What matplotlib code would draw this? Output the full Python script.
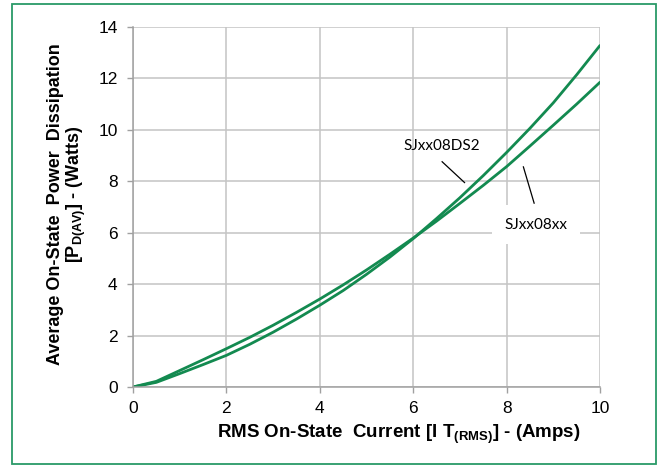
import numpy as np
import matplotlib.pyplot as plt
from matplotlib.patches import Rectangle

plt.rcParams['font.family'] = ['Liberation Sans', 'DejaVu Sans']
plt.rcParams['mathtext.fontset'] = 'custom'
plt.rcParams['mathtext.rm'] = 'Liberation Sans'
plt.rcParams['mathtext.bf'] = 'Liberation Sans:bold'

# RMS on-state current (A)
current = [0, 0.5, 1, 1.5, 2, 2.5, 3, 3.5, 4, 4.5, 5, 5.5,
           6, 6.5, 7, 7.5, 8, 8.5, 9, 9.5, 10]
# average on-state power dissipation (W)
power_ds2 = [0, 0.18, 0.52, 0.87, 1.23, 1.66, 2.13, 2.64, 3.18, 3.75, 4.38, 5.05,
             5.77, 6.55, 7.36, 8.22, 9.12, 10.06, 11.05, 12.14, 13.28]
power_xx = [0, 0.22, 0.64, 1.06, 1.49, 1.93, 2.40, 2.90, 3.42, 3.97, 4.55, 5.16,
            5.79, 6.45, 7.14, 7.84, 8.57, 9.37, 10.18, 11.0, 11.85]

green = '#138a50'

fig = plt.figure(figsize=(6.62, 4.68), dpi=100)
ax = fig.add_axes([0.2009, 0.1731, 0.7054, 0.7692])

ax.plot(current, power_ds2, color=green, lw=2.0, solid_capstyle='round')
ax.plot(current, power_xx, color=green, lw=2.0, solid_capstyle='round')

ax.set_xlim(0, 10)
ax.set_ylim(0, 14)
ax.set_xticks(range(0, 11, 2))
ax.set_yticks(range(0, 15, 2))
ax.grid(True, color='#c4c4c4', lw=1.1)
ax.set_axisbelow(True)
for side in ['top', 'right']:
    ax.spines[side].set_visible(False)
for side in ['left', 'bottom']:
    ax.spines[side].set_color('#a0a0a0')
    ax.spines[side].set_linewidth(1.1)
ax.tick_params(length=4, width=1, color='#a0a0a0', labelsize=12.5)
ax.tick_params(axis='y', pad=7)
ax.tick_params(axis='x', pad=6)

ax.set_xlabel(r'RMS On-State  Current [I T$_{\mathbf{(RMS)}}$] - (Amps)',
              fontsize=13.5, fontweight='bold')
ax.xaxis.set_label_coords(0.57, -0.10)
ax.set_ylabel('Average On-State  Power  Dissipation    \n'
              r'[P$_{\mathbf{D(AV)}}$] - (Watts)',
              fontsize=13, fontweight='bold', linespacing=1.0)
ax.yaxis.set_label_coords(-0.097, 0.535)

# curve labels with leader lines
ax.text(6.62, 9.37, 'SJxx08DS2', family=['Lato', 'DejaVu Sans'], fontsize=11,
        ha='center', va='center')
ax.plot([6.62, 7.10], [8.76, 7.95], color='black', lw=0.9)
ax.text(8.63, 6.31, 'SJxx08xx', family=['Lato', 'DejaVu Sans'], fontsize=11,
        ha='center', va='center',
        bbox=dict(facecolor='white', edgecolor='none', pad=9))
ax.plot([8.36, 8.59], [8.56, 7.15], color='black', lw=0.9)

# green frame around the figure
fig.patches.append(Rectangle((12 / 662, 4 / 468), 644 / 662, 460 / 468,
                             transform=fig.transFigure, fill=False,
                             edgecolor='#2a9a68', lw=1.3))

fig.savefig('out.png', dpi=100)
